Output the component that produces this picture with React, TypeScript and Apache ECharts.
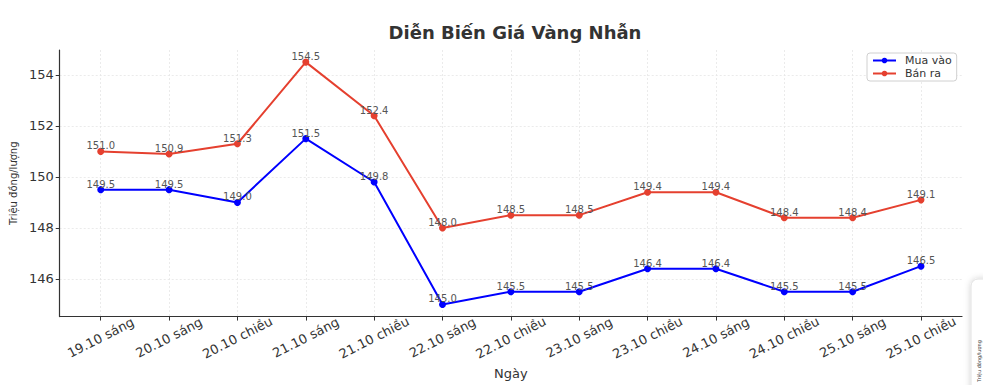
import React, { useEffect, useRef } from "react";
import * as echarts from "echarts";

const categories = [
  "19.10 sáng", "20.10 sáng", "20.10 chiều", "21.10 sáng", "21.10 chiều",
  "22.10 sáng", "22.10 chiều", "23.10 sáng", "23.10 chiều", "24.10 sáng",
  "24.10 chiều", "25.10 sáng", "25.10 chiều",
];
const muaVao = [149.5, 149.5, 149.0, 151.5, 149.8, 145.0, 145.5, 145.5, 146.4, 146.4, 145.5, 145.5, 146.5];
const banRa = [151.0, 150.9, 151.3, 154.5, 152.4, 148.0, 148.5, 148.5, 149.4, 149.4, 148.4, 148.4, 149.1];
const yTicks = [146, 148, 150, 152, 154];

const FONT = "DejaVu Sans";
const BLUE = "#0000ff";
const RED = "#e5402f";

export default function App() {
  const ref = useRef<HTMLDivElement>(null);
  useEffect(() => {
    document.body.style.margin = "0";
    if (!ref.current) return;
    const chart = echarts.init(ref.current, undefined, { renderer: "svg" });
    const xIdx = categories.map((_, i) => i);
    const mk = (name: string, vals: number[], color: string) => ({
      name,
      type: "line",
      data: vals.map((v, i) => [i, v]),
      symbol: "circle",
      symbolSize: 7,
      color,
      lineStyle: { width: 2, color },
      itemStyle: { color },
      label: {
        show: true,
        position: "top",
        distance: 0,
        offset: [0, 3],
        fontFamily: FONT,
        fontSize: 10,
        color: "#555",
        formatter: (p: any) => Number(p.value[1]).toFixed(1),
      },
      emphasis: { disabled: true },
    });
    chart.setOption({
      animation: false,
      backgroundColor: "#fff",
      textStyle: { fontFamily: FONT },
      title: {
        text: "Diễn Biến Giá Vàng Nhẫn",
        left: 510,
        textAlign: "center",
        top: 18,
        textStyle: { fontFamily: FONT, fontSize: 18, fontWeight: "bold", color: "#333" },
      },
      legend: {
        orient: "vertical",
        left: 867,
        top: 53,
        padding: [2, 5, 2, 5],
        itemGap: 2,
        itemWidth: 23,
        itemHeight: 7,
        borderColor: "#d0d0d0",
        borderWidth: 1,
        borderRadius: 3,
        backgroundColor: "#fff",
        textStyle: { fontFamily: FONT, fontSize: 11, color: "#333", padding: [0, 0, 0, 4] },
        data: ["Mua vào", "Bán ra"],
      },
      grid: { left: 59, right: 21, top: 50, bottom: 67, containLabel: false },
      xAxis: {
        type: "value",
        min: -0.6,
        max: 12.6,
        name: "Ngày",
        nameLocation: "middle",
        nameGap: 43,
        nameTextStyle: { fontFamily: FONT, fontSize: 13, color: "#333" },
        axisLine: { show: true, onZero: false, lineStyle: { color: "#333", width: 1.2 } },
        axisTick: { show: true, length: 4, customValues: xIdx, lineStyle: { color: "#333" } },
        axisLabel: {
          customValues: xIdx,
          rotate: 27,
          align: "center",
          verticalAlign: "middle",
          margin: 21,
          fontFamily: FONT,
          fontSize: 13,
          color: "#333",
          formatter: (v: number) => categories[Math.round(v)] ?? "",
        },
        splitLine: { show: true, lineStyle: { color: "#e6e6e6", type: [2, 2], width: 0.8 } },
      },
      yAxis: {
        type: "value",
        min: 144.525,
        max: 154.975,
        name: "Triệu đồng/lượng",
        nameLocation: "middle",
        nameGap: 36,
        nameTextStyle: { fontFamily: FONT, fontSize: 10, color: "#333" },
        axisLine: { show: true, onZero: false, lineStyle: { color: "#333", width: 1.2 } },
        axisTick: { show: true, length: 4, customValues: yTicks, lineStyle: { color: "#333" } },
        axisLabel: {
          customValues: yTicks,
          margin: 6,
          fontFamily: FONT,
          fontSize: 13,
          color: "#333",
          formatter: (v: number) => String(v),
        },
        splitLine: { show: true, lineStyle: { color: "#e6e6e6", type: [2, 2], width: 0.8 } },
      },
      series: [mk("Mua vào", muaVao, BLUE), mk("Bán ra", banRa, RED)],
      graphic: [
        {
          type: "rect",
          shape: { x: 971, y: 279, width: 40, height: 130, r: 7 },
          style: { fill: "#fff", stroke: "#e2e2e2", lineWidth: 1, shadowBlur: 6, shadowColor: "rgba(0,0,0,0.18)" },
          z: 100,
        },
        {
          type: "text",
          x: 979,
          y: 361,
          rotation: Math.PI / 2,
          style: {
            text: "Triệu đồng/lượng",
            fontFamily: FONT,
            fontSize: 5,
            fill: "#444",
            align: "center",
            verticalAlign: "middle",
          },
          z: 101,
        },
      ],
    });
    return () => chart.dispose();
  }, []);
  return <div ref={ref} style={{ width: 983, height: 385 }} />;
}
